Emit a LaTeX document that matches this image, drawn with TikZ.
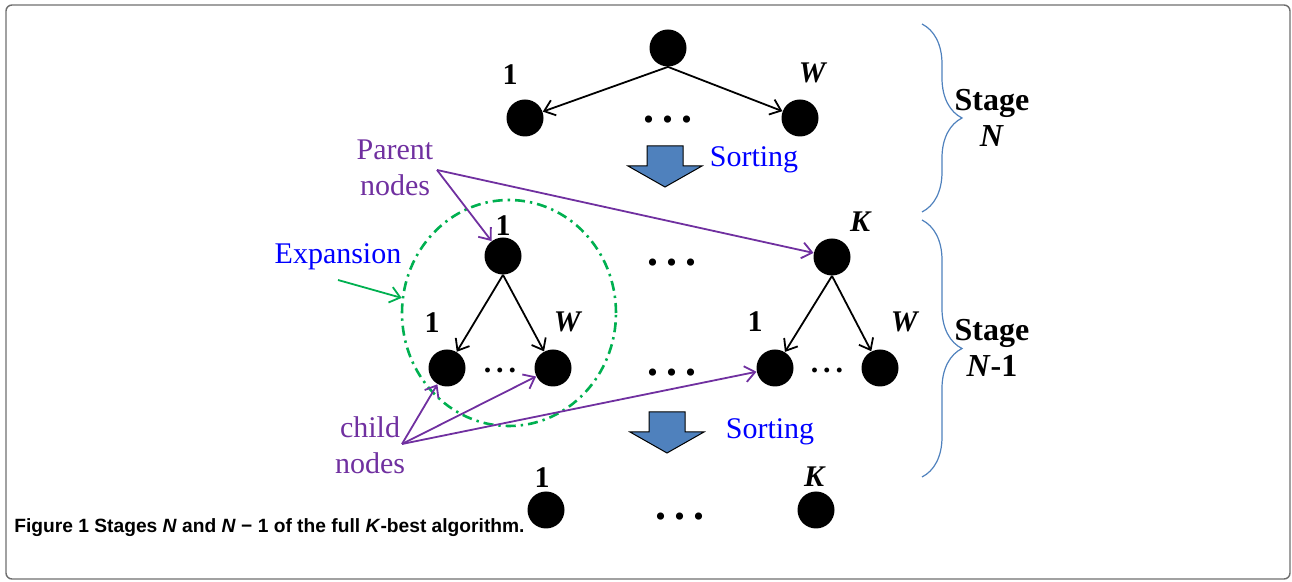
\documentclass[tikz,border=0pt]{standalone}
\usepackage{fontspec}
\setmainfont{Liberation Serif}
\newfontfamily\capfont{Liberation Sans}
\usetikzlibrary{arrows.meta,shapes.geometric,decorations.pathreplacing}

\definecolor{PURPLE}{RGB}{112,48,160}
\definecolor{GREEN}{RGB}{0,176,80}
\definecolor{BLUE}{RGB}{0,0,255}
\definecolor{STEEL}{RGB}{79,129,189}
\definecolor{FRAME}{RGB}{110,110,110}

\newcommand{\bigellipsis}{.\hspace{4pt}.\hspace{4pt}.}
\newcommand{\smallellipsis}{.\hspace{2.5pt}.\hspace{2.5pt}.}

\tikzset{
  state/.style={circle, fill=black, inner sep=0pt, minimum size=18.5pt},
  num/.style={font=\fontsize{15}{18}\selectfont\bfseries, inner sep=0pt},
  tag/.style={font=\fontsize{15}{18}\selectfont, align=center, inner sep=0pt},
  stagetext/.style={font=\fontsize{16}{18}\selectfont\bfseries, align=center, inner sep=0pt},
  bigdots/.style={font=\fontsize{22}{24}\selectfont\bfseries, inner sep=0pt},
  smalldots/.style={font=\fontsize{15}{18}\selectfont\bfseries, inner sep=0pt},
  branch/.style={black, line width=0.9pt, -{Straight Barb[length=5pt,width=8pt]}},
  pointer/.style={PURPLE, line width=0.9pt, -{Straight Barb[length=5pt,width=8pt]}},
  stagebrace/.style={STEEL, line width=0.6pt, decorate, decoration={brace, amplitude=20pt}},
  sortarrow/.pic={\draw[fill=STEEL, line width=0.5pt]
    (-18,0) -- (18,0) -- (18,20) -- (37,20) -- (0,41) -- (-37,20) -- (-18,20) -- cycle;}
}

\begin{document}
\begin{tikzpicture}[x=0.5pt,y=-0.5pt]
\useasboundingbox (0,0) rectangle (1292,582);
\draw[FRAME, line width=0.7pt, rounded corners=3pt] (6,5) rectangle (1290,579);

% stage N
\node[state] (top) at (668,48) {};
\node[state] (t1) at (525,118) {};
\node[state] (tw) at (800,118) {};
\node[num] (t1lbl) at (510,75) {1};
\node[num] (twlbl) at (813,73) {\textit{W}};
\node[bigdots] (tdots) at (668,120) {\bigellipsis};
\draw[branch] (top.south) -- (t1);
\draw[branch] (top.south) -- (tw);
\pic at (665,146) {sortarrow};
\node[tag, text=BLUE] (sort1) at (754,160) {Sorting};

% stage N-1, left parent
\node[state] (p1) at (503,256) {};
\node[state] (c11) at (447,368) {};
\node[state] (c1w) at (553,368) {};
\node[num] (p1lbl) at (503,226) {1};
\node[num] (c11lbl) at (432,323) {1};
\node[num] (c1wlbl) at (568,322) {\textit{W}};
\node[smalldots] (c1dots) at (500,370) {\smallellipsis};
\draw[branch] (p1.south) -- (c11);
\draw[branch] (p1.south) -- (c1w);

% stage N-1, right parent
\node[state] (pk) at (832,257) {};
\node[state] (ck1) at (775,368) {};
\node[state] (ckw) at (880,368) {};
\node[num] (pklbl) at (861,222) {\textit{K}};
\node[num] (ck1lbl) at (755,322) {1};
\node[num] (ckwlbl) at (905,322) {\textit{W}};
\node[smalldots] (ckdots) at (827,370) {\smallellipsis};
\draw[branch] (pk.south) -- (ck1);
\draw[branch] (pk.south) -- (ckw);

\node[bigdots] (mdots1) at (672,263) {\bigellipsis};
\node[bigdots] (mdots2) at (672,373) {\bigellipsis};

% expansion
\node[ellipse, draw=GREEN, line width=1.3pt, inner sep=0pt,
  minimum width=107pt, minimum height=113pt,
  dash pattern=on 5pt off 2.5pt on 1.2pt off 2.5pt] (exp) at (509,313) {};
\node[tag, text=BLUE] (explbl) at (338,257) {Expansion};
\coordinate (expfrom) at (338,280);
\draw[GREEN, line width=0.9pt, -{Straight Barb[length=5pt,width=8pt]}] (expfrom) -- (exp.172);

% pointers
\node[tag, text=PURPLE] (parent) at (395,168) {Parent\\nodes};
\coordinate (pfrom) at (437,170);
\draw[pointer] (pfrom) -- (p1);
\draw[pointer] (pfrom) -- (pk);
\node[tag, text=PURPLE] (child) at (370,445) {child\\nodes};
\coordinate (cfrom) at (402,444);
\draw[pointer] (cfrom) -- (c11);
\draw[pointer] (cfrom) -- (c1w);
\draw[pointer] (cfrom) -- (ck1);

% sorted list
\pic at (667,412) {sortarrow};
\node[tag, text=BLUE] (sort2) at (770,432) {Sorting};
\node[state] (s1) at (546,510) {};
\node[state] (sk) at (816,510) {};
\node[num] (s1lbl) at (542,478) {1};
\node[num] (sklbl) at (815,477) {\textit{K}};
\node[bigdots] (sdots) at (680,517) {\bigellipsis};

% stages
\draw[stagebrace] (922,24) -- (922,212);
\draw[stagebrace] (922,220) -- (922,477);
\node[stagetext] (stn) at (992,118) {Stage\\\textit{N}};
\node[stagetext] (stn1) at (992,348) {Stage\\\textit{N}-1};

% caption
\node[anchor=west, inner sep=0pt, font=\capfont\fontsize{9.6}{11}\selectfont\bfseries] (cap) at (14,528)
  {Figure 1 Stages \textit{N} and \textit{N} − 1 of the full \textit{K}-best algorithm.};
\end{tikzpicture}
\end{document}
